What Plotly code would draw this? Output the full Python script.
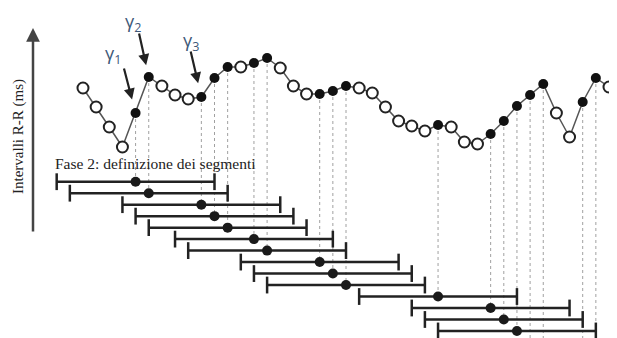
import plotly.graph_objects as go

# ---------------- data ----------------
beats = list(range(41))
rr_ms = [818, 780, 740, 700, 768, 840, 822, 804, 796, 800,
         838, 860, 860, 868, 878, 858, 822, 806, 806, 812,
         822, 818, 808, 780, 752, 742, 732, 744, 740, 710,
         706, 726, 752, 782, 804, 826, 768, 720, 790, 838, 820]
selected_beats = [4, 5, 9, 10, 11, 13, 14, 18, 19, 20, 27, 31, 32, 33, 34, 35, 38, 39]
segment_centres = [4, 5, 9, 10, 11, 13, 14, 18, 19, 20, 27, 31, 32, 33]
segment_half_width = 6
gamma_labels = ["γ<sub>1</sub>", "γ<sub>2</sub>", "γ<sub>3</sub>"]
gamma_beats = [4, 5, 9]
y_title = "Intervalli R-R (ms)"
phase_title = "Fase 2: definizione dei segmenti"

# ---------------- layout constants ----------------
# the page body adds an 8px offset, so the figure is placed 8px right/down
OFF = 8
W, H = 617, 338
X_RANGE = [-5.703, 41.217]
Y_RANGE = [302, 978]          # ms axis (bottom, top)
ROW_RANGE = [15.31, -14.13]   # segment rows axis (bottom, top)

def px_x(p):
    return (p - OFF) / W

def px_y(p):
    return 1 - (p - OFF) / H

def frac_ms(v):
    return (v - Y_RANGE[0]) / (Y_RANGE[1] - Y_RANGE[0])

def frac_row(r):
    return (r - ROW_RANGE[0]) / (ROW_RANGE[1] - ROW_RANGE[0])

rr_of = dict(zip(beats, rr_ms))
rows = list(range(1, len(segment_centres) + 1))
row_of = dict(zip(segment_centres, rows))

fig = go.Figure()

# dotted guide lines from selected beats down to their segment
shapes = []
for b in selected_beats:
    y_top = frac_ms(rr_of[b]) - 6 / H
    y_bot = frac_row(row_of[b]) if b in row_of else 0
    shapes.append(dict(type="line", xref="x", yref="paper", x0=b, x1=b,
                       y0=y_top, y1=y_bot, layer="below",
                       line=dict(color="#a0a0a0", width=1, dash="dot")))

# RR series line
fig.add_trace(go.Scatter(x=beats, y=rr_ms, mode="lines",
                         line=dict(color="#555555", width=1.5),
                         hoverinfo="skip", showlegend=False))
open_b = [b for b in beats if b not in selected_beats]
fig.add_trace(go.Scatter(x=open_b, y=[rr_of[b] for b in open_b], mode="markers",
                         marker=dict(symbol="circle", size=11, color="white",
                                     line=dict(color="#222222", width=2)),
                         showlegend=False))
fig.add_trace(go.Scatter(x=selected_beats, y=[rr_of[b] for b in selected_beats],
                         mode="markers",
                         marker=dict(symbol="circle", size=10, color="#111111"),
                         showlegend=False))

# segments
sx, sy = [], []
for c, r in zip(segment_centres, rows):
    sx += [c - segment_half_width, c + segment_half_width, None]
    sy += [r, r, None]
fig.add_trace(go.Scatter(x=sx, y=sy, yaxis="y2", mode="lines+markers",
                         line=dict(color="#222222", width=2.5),
                         marker=dict(symbol="line-ns", size=12,
                                     line=dict(color="#222222", width=2.5)),
                         showlegend=False))
fig.add_trace(go.Scatter(x=segment_centres, y=rows, yaxis="y2", mode="markers",
                         marker=dict(symbol="circle", size=10, color="#1a1a1a"),
                         showlegend=False))

annotations = []
# vertical axis arrow
annotations.append(dict(x=px_x(33), y=px_y(28), xref="paper", yref="paper",
                        text="", showarrow=True, ax=0, ay=205,
                        arrowhead=2, arrowsize=1.1, arrowwidth=2.5,
                        arrowcolor="#444444"))
annotations.append(dict(x=px_x(18), y=px_y(137), xref="paper", yref="paper",
                        text=y_title, textangle=-90, showarrow=False,
                        xanchor="center", yanchor="middle",
                        font=dict(family="Liberation Serif", size=15, color="#222222")))
annotations.append(dict(x=px_x(53), y=px_y(163), xref="paper", yref="paper",
                        text=phase_title, showarrow=False,
                        xanchor="left", yanchor="middle",
                        font=dict(family="Liberation Serif", size=15.5, color="#222222")))

# gamma arrows and labels
arrow_offsets = [(-12, -46, 14), (-10, -45, 12), (-11, -47, 14)]
label_shifts = [(-23, 59), (-16, 55), (-10, 56)]
for lab, b, (ax, ay, so), (xs, ys) in zip(gamma_labels, gamma_beats, arrow_offsets, label_shifts):
    annotations.append(dict(x=b, y=rr_of[b], xref="x", yref="y", text="",
                            showarrow=True, ax=ax, ay=ay, standoff=so,
                            arrowhead=2, arrowsize=1, arrowwidth=2.2,
                            arrowcolor="#222222"))
    annotations.append(dict(x=b, y=rr_of[b], xref="x", yref="y", text=lab,
                            showarrow=False, xshift=xs, yshift=ys,
                            xanchor="center", yanchor="middle", borderpad=0,
                            font=dict(family="Open Sans", size=18, color="#3d5878")))

fig.update_layout(
    width=W, height=H,
    margin=dict(l=0, r=0, t=0, b=0),
    paper_bgcolor="white", plot_bgcolor="white",
    xaxis=dict(range=X_RANGE, visible=False, fixedrange=True),
    yaxis=dict(range=Y_RANGE, visible=False, fixedrange=True),
    yaxis2=dict(range=ROW_RANGE, visible=False, overlaying="y", fixedrange=True),
    shapes=shapes,
    annotations=annotations,
    showlegend=False,
)

fig.write_html("out.html")
